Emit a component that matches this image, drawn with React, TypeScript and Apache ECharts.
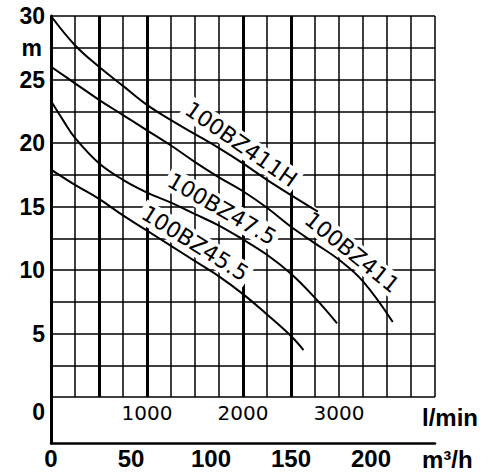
import React, { useEffect, useRef } from "react";
import * as echarts from "echarts";

// Axis tick labels
const flowTickLabels = [1000, 2000, 3000]; // l/min
const rateTickLabels = [0, 50, 100, 150, 200]; // m³/h
const headTickLabels = [0, 5, 10, 15, 20, 25, 30]; // m
const boldFlowLines = [500, 1000, 2000, 2500]; // heavier grid verticals, l/min

// Pump curves: flow (l/min) against head (m)
const flow411H = [0, 250, 500, 750, 1000, 1250, 1500, 1750, 2000, 2250, 2500, 2780];
const head411H = [30, 27.7, 26.0, 24.5, 23.0, 21.8, 20.7, 19.6, 18.4, 17.1, 15.9, 14.6];

const flow411 = [0, 250, 500, 750, 1000, 1250, 1500, 1750, 2000, 2250, 2500, 2750, 3000, 3250, 3560];
const head411 = [26, 24.7, 23.4, 22.2, 21.0, 19.8, 18.5, 17.3, 16.2, 14.9, 13.4, 12.1, 10.8, 9.1, 5.9];

const flow475 = [0, 125, 250, 500, 750, 1000, 1250, 1500, 1750, 2000, 2250, 2500, 2750, 2980];
const head475 = [23.3, 21.8, 20.4, 18.4, 17.1, 16.1, 15.3, 14.4, 13.5, 12.4, 11.2, 9.7, 7.8, 5.8];

const flow455 = [0, 250, 500, 750, 1000, 1250, 1500, 1750, 2000, 2250, 2500, 2630];
const head455 = [17.9, 16.7, 15.6, 14.3, 13.1, 11.9, 10.7, 9.5, 8.1, 6.5, 4.8, 3.7];

const curveNames = ["100BZ411H", "100BZ411", "100BZ47.5", "100BZ45.5"];
const curveFlows = [flow411H, flow411, flow475, flow455];
const curveHeads = [head411H, head411, head475, head455];

// Where each curve's name sits (l/min, m) and its slant
const nameFlow = [1980, 3135, 1781, 1500];
const nameHead = [19.9, 11.4, 14.8, 12.1];
const nameAngle = [-35, -39, -30, -32];

const BOLD = "'Liberation Sans', Arial, sans-serif";
const PLAIN = "'DejaVu Sans', sans-serif";

export default function App() {
  const ref = useRef<HTMLDivElement>(null);

  useEffect(() => {
    if (!ref.current) return;
    const chart = echarts.init(ref.current, undefined, { renderer: "svg" });

    const curveSeries = curveNames.map((name, i) => ({
      name,
      type: "line",
      xAxisIndex: 0,
      yAxisIndex: 0,
      data: curveFlows[i].map((q, k) => [q, curveHeads[i][k]]),
      smooth: 0.4,
      showSymbol: false,
      silent: true,
      z: 5,
      lineStyle: { color: "#000", width: 2 },
    }));

    const option: any = {
      animation: false,
      backgroundColor: "#fff",
      grid: [
        { left: 51, right: 64, top: 16, bottom: 78 },
        { left: 51, right: 64, top: 397, height: 46 },
      ],
      xAxis: [
        {
          type: "value",
          gridIndex: 0,
          min: 0,
          max: 4000,
          interval: 250,
          axisLine: { show: false },
          axisTick: { show: false },
          splitLine: { show: true, lineStyle: { color: "#000", width: 1.5 } },
          axisLabel: {
            formatter: (v: number) => (flowTickLabels.includes(v) ? String(v) : ""),
            fontFamily: PLAIN,
            fontSize: 20,
            color: "#000",
            margin: 6,
          },
          name: "l/min",
          nameLocation: "end",
          nameGap: -13,
          nameTextStyle: {
            fontFamily: BOLD,
            fontWeight: "bold",
            fontSize: 24,
            color: "#000",
            verticalAlign: "top",
            padding: [8, 0, 0, 0],
          },
        },
        {
          type: "value",
          gridIndex: 1,
          min: 0,
          max: 240,
          interval: 50,
          axisLine: { show: true, lineStyle: { color: "#000", width: 2.5 } },
          axisTick: { show: false },
          splitLine: { show: false },
          axisLabel: {
            formatter: (v: number) => (rateTickLabels.includes(v) ? String(v) : ""),
            fontFamily: BOLD,
            fontWeight: "bold",
            fontSize: 24,
            color: "#000",
            margin: 3,
          },
          name: "m³/h",
          nameLocation: "end",
          nameGap: -13,
          nameTextStyle: {
            fontFamily: BOLD,
            fontWeight: "bold",
            fontSize: 24,
            color: "#000",
            verticalAlign: "top",
            padding: [4, 0, 0, 0],
          },
        },
      ],
      yAxis: [
        {
          type: "value",
          gridIndex: 0,
          min: 0,
          max: 30,
          interval: 2.5,
          axisLine: { show: true, lineStyle: { color: "#000", width: 3 } },
          axisTick: { show: false },
          splitLine: { show: true, lineStyle: { color: "#000", width: 1.5 } },
          axisLabel: {
            formatter: (v: number) => {
              if (v === 0) return "{lo|0}";
              if (v === 27.5) return "{u|m}";
              return headTickLabels.includes(v) ? String(v) : "";
            },
            fontFamily: BOLD,
            fontWeight: "bold",
            fontSize: 23,
            color: "#000",
            margin: 6,
            rich: {
              lo: {
                fontFamily: BOLD,
                fontWeight: "bold",
                fontSize: 23,
                color: "#000",
                padding: [30, 0, 0, 0],
              },
              u: {
                fontFamily: BOLD,
                fontWeight: "bold",
                fontSize: 23,
                color: "#000",
                padding: [0, 3, 0, 0],
              },
            },
          },
        },
        {
          type: "value",
          gridIndex: 1,
          min: 0,
          max: 1,
          axisLine: { show: true, lineStyle: { color: "#000", width: 3 } },
          axisTick: { show: false },
          axisLabel: { show: false },
          splitLine: { show: false },
        },
      ],
      series: [
        // heavier verticals of the grid
        {
          type: "line",
          xAxisIndex: 0,
          yAxisIndex: 0,
          data: [],
          silent: true,
          z: 1,
          markLine: {
            silent: true,
            symbol: ["none", "none"],
            label: { show: false },
            lineStyle: { color: "#000", width: 3, type: "solid" },
            data: boldFlowLines.map((q) => ({ xAxis: q })),
          },
        },
        // curve names, on white so the grid breaks around them
        {
          type: "line",
          xAxisIndex: 0,
          yAxisIndex: 0,
          data: [],
          silent: true,
          z: 3,
          markPoint: {
            silent: true,
            symbol: "circle",
            symbolSize: 1,
            itemStyle: { color: "rgba(0,0,0,0)" },
            data: curveNames.map((name, i) => ({
              coord: [nameFlow[i], nameHead[i]],
              label: {
                show: true,
                position: "inside",
                formatter: name,
                rotate: nameAngle[i],
                fontFamily: PLAIN,
                fontSize: 22,
                color: "#000",
                backgroundColor: "#fff",
                padding: [1, 3, 1, 3],
              },
            })),
          },
        },
        ...curveSeries,
      ],
    };

    chart.setOption(option);
    return () => chart.dispose();
  }, []);

  return (
    <div
      ref={ref}
      style={{ position: "absolute", left: 0, top: 0, width: 499, height: 475, background: "#fff" }}
    />
  );
}
